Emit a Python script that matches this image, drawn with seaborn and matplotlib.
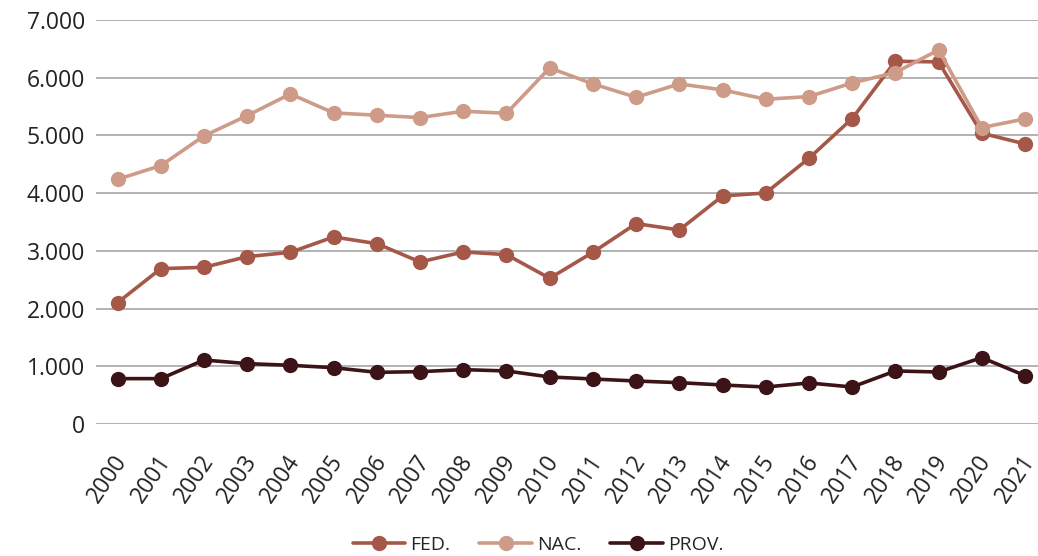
import matplotlib
matplotlib.use("Agg")
import matplotlib.pyplot as plt
import matplotlib.transforms as mtransforms
import seaborn as sns
import pandas as pd

years = list(range(2000, 2022))
fed = [2103, 2692, 2715, 2900, 2975, 3241, 3125, 2808, 2981, 2935, 2525,
       2975, 3472, 3362, 3951, 4003, 4604, 5292, 6285, 6274, 5038, 4853]
nac = [4240, 4477, 4991, 5344, 5719, 5390, 5350, 5309, 5419, 5384, 6170,
       5893, 5661, 5893, 5789, 5627, 5673, 5910, 6089, 6482, 5136, 5286]
prov = [786, 786, 1109, 1046, 1017, 976, 895, 907, 942, 919, 815,
        780, 745, 716, 676, 641, 711, 641, 919, 901, 1150, 838]
series = ["FED.", "NAC.", "PROV."]
colors = ["#A65848", "#CE9B88", "#3C1317"]

df = pd.DataFrame({"year": years * 3,
                   "value": fed + nac + prov,
                   "serie": [s for s in series for _ in years]})

sns.set_style("white")
plt.rcParams["font.family"] = ["Open Sans", "DejaVu Sans"]

fig = plt.figure(figsize=(10.38, 5.56), dpi=100)
ax = fig.add_axes([96 / 1038, 1 - 424 / 556, 1 - 96 / 1038, 404 / 556])

sns.lineplot(data=df, x="year", y="value", hue="serie", hue_order=series,
             palette=colors, marker="o", markersize=11, markeredgewidth=0,
             linewidth=2.6, ax=ax, legend=True)

ax.set_xlim(1999.5, 2000 + (1038 - 118) / 43.19)
ax.set_ylim(0, 7000)
ax.set_yticks(range(0, 7001, 1000))
ax.set_yticklabels([f"{v:,}".replace(",", ".") for v in range(0, 7001, 1000)],
                   fontsize=16.5, color="#222222")
ax.set_xticks(years)
ax.set_xticklabels([str(y) for y in years], rotation=56, ha="right",
                   rotation_mode="anchor", fontsize=16.5, color="#222222")
ax.tick_params(axis="y", length=0, pad=8)
ax.tick_params(axis="x", length=0, pad=19)
# nudge the rotated year labels a little to the left
shift = mtransforms.ScaledTranslation(-5 / 100, 0, fig.dpi_scale_trans)
for lbl in ax.get_xticklabels():
    lbl.set_transform(lbl.get_transform() + shift)
ax.grid(axis="y", color="#A6A6A6", linewidth=1.2)
ax.set_xlabel("")
ax.set_ylabel("")
for s in ax.spines.values():
    s.set_visible(False)

handles, labels = ax.get_legend_handles_labels()
ax.legend_.remove()
fig.legend(handles, labels, loc="center", bbox_to_anchor=(538 / 1038, 1 - 545 / 556),
           ncol=3, frameon=False, fontsize=14, handlelength=2.7,
           handletextpad=0.25, columnspacing=1.5)

fig.savefig("out.png", dpi=100)
